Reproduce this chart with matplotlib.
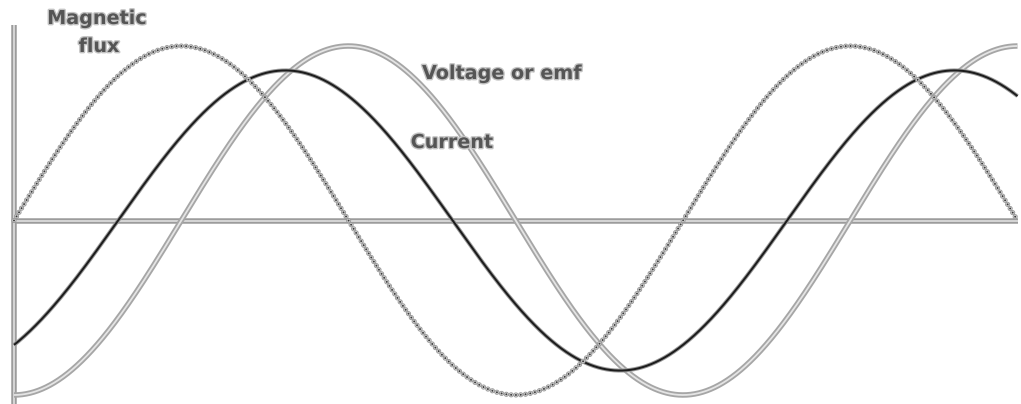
import numpy as np
import matplotlib
matplotlib.use("Agg")
import matplotlib.pyplot as plt
import matplotlib.patheffects as pe

# ---- data ----
series_names = ["Magnetic flux", "Voltage or emf", "Current"]
amplitudes = [1.0, 1.0, 0.86]          # relative to flux peak
phase_lags_deg = [0.0, 90.0, 56.0]     # lag behind flux
angle_end_deg = 540.0                  # 1.5 cycles shown

label_lines = {"Magnetic flux": ["Magnetic", "flux"],
               "Voltage or emf": ["Voltage or emf"],
               "Current": ["Current"]}

plt.rcParams["lines.scale_dashes"] = False

W, H = 1021, 404
fig = plt.figure(figsize=(W / 100, H / 100), dpi=100)
ax = fig.add_axes([0, 0, 1, 1])
ax.set_axis_off()

# pixel mapping of the original
px_per_deg = 669.0 / 360.0
x0_px = 14.0
base_px = 220.5
amp_px = 174.5
ax.set_xlim(-x0_px / px_per_deg, (W - x0_px) / px_per_deg)
ax.set_ylim(-(H - base_px) / amp_px, base_px / amp_px)

def pxw(p):  # pixel width -> points
    return p * 0.72

theta = np.linspace(0, angle_end_deg, 2000)
curves = {}
for name, a, lag in zip(series_names, amplitudes, phase_lags_deg):
    curves[name] = a * np.sin(np.radians(theta - lag))

# axes lines (double gray)
y_top_axis = (base_px - 25) / amp_px
for xs, ys in [([0, 0], [ax.get_ylim()[0], y_top_axis]),
               ([0, angle_end_deg], [0, 0])]:
    ax.plot(xs, ys, color="#9c9c9c", lw=pxw(5.5), solid_capstyle="butt", zorder=1)
    ax.plot(xs, ys, color="#e2e2e2", lw=pxw(1.6), solid_capstyle="butt", zorder=1.1)

# voltage: hollow light gray
v = curves["Voltage or emf"]
ax.plot(theta, v, color="#a6a6a6", lw=pxw(5.5), solid_capstyle="butt", zorder=2)
ax.plot(theta, v, color="#e4e4e4", lw=pxw(1.8), solid_capstyle="butt", zorder=2.1)

# current: dark solid with soft halo
c = curves["Current"]
ax.plot(theta, c, color="#9a9a9a", lw=pxw(4.0), solid_capstyle="butt", zorder=3)
ax.plot(theta, c, color="#1c1c1c", lw=pxw(2.0), solid_capstyle="butt", zorder=3.1)

# flux: chain of dots
f = curves["Magnetic flux"]
gap = pxw(4.8)
ax.plot(theta, f, color="#9a9a9a", lw=pxw(5.2), linestyle=(0, (0.01, gap)),
        dash_capstyle="round", zorder=4)
ax.plot(theta, f, color="#d8d8d8", lw=pxw(3.4), linestyle=(0, (0.01, gap)),
        dash_capstyle="round", zorder=4.05)
ax.plot(theta, f, color="#3a3a3a", lw=pxw(2.0), linestyle=(0, (0.01, gap)),
        dash_capstyle="round", zorder=4.1)

# labels (pixel baselines from the picture)
label_pos_px = {"Magnetic flux": [(97, 24), (99, 52)],
                "Voltage or emf": [(502, 79)],
                "Current": [(452, 148)]}

def to_data(px, py):
    return (px - x0_px) / px_per_deg, (base_px - py) / amp_px

for name in series_names:
    for line, (px, py) in zip(label_lines[name], label_pos_px[name]):
        x, y = to_data(px, py)
        ax.text(x, y, line, ha="center", va="baseline", fontsize=13.8,
                fontweight="bold", family="DejaVu Sans", color="#555555",
                path_effects=[pe.withStroke(linewidth=2.0, foreground="#c4c4c4")],
                zorder=6)

fig.savefig("out.png", dpi=100, facecolor="white")
